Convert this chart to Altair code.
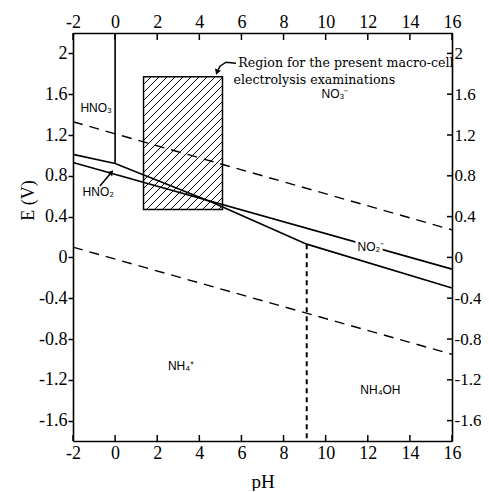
import altair as alt
import numpy as np
import pandas as pd

# ---------------- data ----------------
ph_ticks = [-2, 0, 2, 4, 6, 8, 10, 12, 14, 16]
e_ticks = [2, 1.6, 1.2, 0.8, 0.4, 0, -0.4, -0.8, -1.2, -1.6]

# solid boundaries
line_p_ph = [-2, 16]
line_p_e = [0.93, -0.115]
line_q_ph = [-2, 0, 4.6, 9.1, 16]
line_q_e = [1.01, 0.92, 0.54, 0.13, -0.30]
hno3_ph = [0, 0]
hno3_e = [0.92, 2.2]

# dashed boundaries
o2_ph = [-2, 16]
o2_e = [1.33, 0.27]
h2_ph = [-2, 16]
h2_e = [0.10, -0.95]
nh4_ph = [9.1, 9.1]
nh4_e = [0.13, -1.8]

# hatched region
region_ph = [1.35, 5.1]
region_e = [0.47, 1.77]

species = ["HNO\u2083", "HNO\u2082", "NO\u2083\u207b", "NH\u2084\u207a", "NH\u2084OH"]
species_ph = [-0.9, -0.8, 10.44, 3.13, 12.6]
species_e = [1.46, 0.64, 1.60, -1.06, -1.30]
no2_label = ["NO\u2082\u207b"]
no2_ph = [12.15]
no2_e = [0.10]

note_text = ["Region for the present macro-cell", "electrolysis examinations"]
note_ph = [5.85, 5.62]
note_e = [1.865, 1.70]

note_arrow_ph = [5.74, 5.27, 4.98, 4.84]
note_arrow_e = [1.904, 1.914, 1.875, 1.816]
hno2_arrow_ph = [-0.72, -0.17]
hno2_arrow_e = [0.70, 0.835]

# ---------------- layout ----------------
W, H = 379, 408
XD = [-2, 16]
YD = [-1.8, 2.2]
SERIF = "Liberation Serif"

xs = alt.Scale(domain=XD, nice=False, zero=False)
ys = alt.Scale(domain=YD, nice=False, zero=False)


def lines_df(series):
    rows = []
    for name, phs, es in series:
        for i, (p, e) in enumerate(zip(phs, es)):
            rows.append({"series": name, "idx": i, "ph": p, "e": e})
    return pd.DataFrame(rows)


solid_df = lines_df([("p", line_p_ph, line_p_e), ("q", line_q_ph, line_q_e),
                     ("hno3", hno3_ph, hno3_e)])
dashed_df = lines_df([("o2", o2_ph, o2_e), ("h2", h2_ph, h2_e)])
nh4_df = lines_df([("nh4", nh4_ph, nh4_e)])
note_arrow_df = lines_df([("a", note_arrow_ph, note_arrow_e)])
hno2_arrow_df = lines_df([("b", hno2_arrow_ph, hno2_arrow_e)])

# hatch lines at 45 degrees in screen space, clipped to the region
a = W / (XD[1] - XD[0])
b = H / (YD[1] - YD[0])
k = a / b
spacing_px = 8.0
p0, p1 = region_ph
e0, e1 = region_e
c_min = e0 - k * p1
c_max = e1 - k * p0
hatch = []
c = c_min + spacing_px / b * 0.5
while c < c_max:
    lo = max(p0, (e0 - c) / k)
    hi = min(p1, (e1 - c) / k)
    if hi > lo:
        hatch.append({"ph": lo, "e": c + k * lo, "ph2": hi, "e2": c + k * hi})
    c += spacing_px / b
hatch_df = pd.DataFrame(hatch)

region_df = pd.DataFrame({"ph": [region_ph[0]], "ph2": [region_ph[1]],
                          "e": [region_e[0]], "e2": [region_e[1]]})
species_df = pd.DataFrame({"t": species, "ph": species_ph, "e": species_e})
no2_df = pd.DataFrame({"t": no2_label, "ph": no2_ph, "e": no2_e})
note_df = pd.DataFrame({"t": note_text, "ph": note_ph, "e": note_e})
xt_df = pd.DataFrame({"ph": ph_ticks})
yt_df = pd.DataFrame({"e": e_ticks})

label_expr = "'' + datum.value"
common = dict(labelExpr=label_expr, labelFlush=False, labelOverlap=False,
              labelFont=SERIF, labelColor="black",
              titleFont=SERIF, titleFontWeight="normal",
              titleColor="black", domainColor="black", domainWidth=1.6,
              tickColor="black", tickWidth=1.5, grid=False)

ax_bottom = alt.Axis(orient="bottom", values=ph_ticks, ticks=False, labelPadding=3,
                     labelFontSize=18,
                     title="pH", titleFontSize=19, titleY=40, titleBaseline="middle",
                     **common)
ax_top = alt.Axis(orient="top", values=ph_ticks, ticks=False, labelPadding=2,
                  labelFontSize=18, title="", **common)
ax_left = alt.Axis(orient="left", values=e_ticks, tickSize=5, labelPadding=1,
                   labelFontSize=18,
                   title="E (V)", titleFontSize=18, titleX=-45, titleY=167,
                   titleBaseline="middle", titleAngle=270, titleAlign="center",
                   **common)
ax_right = alt.Axis(orient="right", values=e_ticks, ticks=False, labelPadding=2,
                    labelFontSize=17, title="", **common)

X = lambda f="ph": alt.X(f"{f}:Q", scale=xs, axis=None)
Y = lambda f="e": alt.Y(f"{f}:Q", scale=ys, axis=None)

hatch_layer = alt.Chart(hatch_df).mark_rule(color="black", strokeWidth=1).encode(
    x=X(), y=Y(), x2="ph2:Q", y2="e2:Q")

region_layer = alt.Chart(region_df).mark_rect(
    fill="white", fillOpacity=0, stroke="black", strokeWidth=1.5).encode(
    x=X(), x2="ph2:Q", y=Y(), y2="e2:Q")

solid_layer = alt.Chart(solid_df).mark_line(color="black", strokeWidth=1.6).encode(
    x=alt.X("ph:Q", scale=xs, axis=ax_bottom),
    y=alt.Y("e:Q", scale=ys, axis=ax_left),
    detail="series:N", order="idx:Q")

dashed_layer = alt.Chart(dashed_df).mark_line(
    color="black", strokeWidth=1.4, strokeDash=[10, 7]).encode(
    x=alt.X("ph:Q", scale=xs, axis=ax_top),
    y=alt.Y("e:Q", scale=ys, axis=ax_right),
    detail="series:N", order="idx:Q")

nh4_layer = alt.Chart(nh4_df).mark_line(
    color="black", strokeWidth=2, strokeDash=[5, 4]).encode(
    x=X(), y=Y(), order="idx:Q")

species_layer = alt.Chart(species_df).mark_text(
    font="Liberation Sans", fontSize=12, color="black").encode(
    x=X(), y=Y(), text="t:N")

no2_halo = alt.Chart(no2_df).mark_text(
    font="Liberation Sans", fontSize=12, color="white", stroke="white",
    strokeWidth=6).encode(x=X(), y=Y(), text="t:N")
no2_layer = alt.Chart(no2_df).mark_text(
    font="Liberation Sans", fontSize=12, color="black").encode(
    x=X(), y=Y(), text="t:N")

note_layer = alt.Chart(note_df).mark_text(
    font="DejaVu Serif", fontSize=12.6, color="black", align="left",
    baseline="alphabetic").encode(x=X(), y=Y(), text="t:N")

note_arrow = alt.Chart(note_arrow_df).mark_line(
    color="black", strokeWidth=1.5).encode(x=X(), y=Y(), order="idx:Q")
note_head = alt.Chart(pd.DataFrame({"ph": [note_arrow_ph[-1]], "e": [note_arrow_e[-1]]})).mark_point(
    shape="triangle-down", filled=True, color="black", size=40, angle=20, opacity=1).encode(
    x=X(), y=Y())

hno2_arrow = alt.Chart(hno2_arrow_df).mark_line(
    color="black", strokeWidth=1.5).encode(x=X(), y=Y(), order="idx:Q")
hno2_head = alt.Chart(pd.DataFrame({"ph": [hno2_arrow_ph[-1]], "e": [hno2_arrow_e[-1]]})).mark_point(
    shape="triangle-up", filled=True, color="black", size=40, angle=40, opacity=1).encode(
    x=X(), y=Y())

# inward ticks on bottom, top and right frames
tick_bottom = alt.Chart(xt_df).mark_rule(color="black", strokeWidth=1.5).encode(
    x=X(), y=alt.value(H), y2=alt.value(H - 6))
tick_top = alt.Chart(xt_df).mark_rule(color="black", strokeWidth=1.5).encode(
    x=X(), y=alt.value(0), y2=alt.value(7))
tick_right = alt.Chart(yt_df).mark_rule(color="black", strokeWidth=1.5).encode(
    y=Y(), x=alt.value(W), x2=alt.value(W - 5))

chart = alt.layer(
    hatch_layer, region_layer, solid_layer, dashed_layer, nh4_layer,
    species_layer, no2_halo, no2_layer, note_layer, note_arrow, note_head,
    hno2_arrow, hno2_head, tick_bottom, tick_top, tick_right,
).resolve_axis(x="independent", y="independent").properties(
    width=W, height=H,
    autosize=alt.AutoSizeParams(type="none"),
    padding={"left": 65, "top": 25, "right": 29, "bottom": 50},
    background="white",
).configure_axis(
    labelFont=SERIF, labelColor="black",
    titleFont=SERIF, titleFontWeight="normal",
    titleColor="black", domainColor="black", domainWidth=1.6,
    tickColor="black", tickWidth=1.5, grid=False,
).configure_view(stroke=None)

chart.save("out.html", embed_options={"renderer": "svg", "actions": False})
